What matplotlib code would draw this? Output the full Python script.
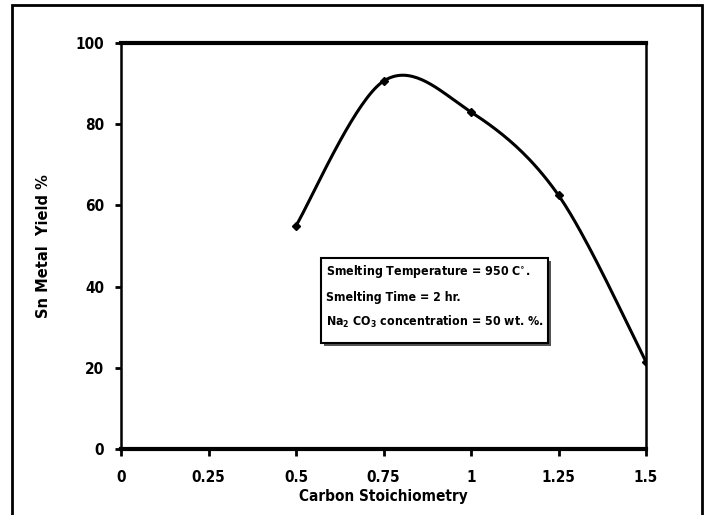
import numpy as np
import matplotlib
matplotlib.use("Agg")
import matplotlib.pyplot as plt
from matplotlib.patches import Rectangle

# data
carbon = [0.5, 0.75, 1.0, 1.25, 1.5]
yield_pct = [55.0, 90.6, 83.0, 62.5, 21.5]
x_ticks = [0, 0.25, 0.5, 0.75, 1, 1.25, 1.5]
x_labels = ["0", "0.25", "0.5", "0.75", "1", "1.25", "1.5"]
y_ticks = [0, 20, 40, 60, 80, 100]
note_lines = [
    "Smelting Temperature = 950 C$^{\\circ}$.",
    "Smelting Time = 2 hr.",
    "Na$_2$ CO$_3$ concentration = 50 wt. %.",
]

NARROW = ["DejaVu Sans"]
plt.rcParams["mathtext.default"] = "regular"


def excel_smooth(xs, ys, n=40):
    """Excel-style smoothed line: cubic bezier with 1/6 tangent handles."""
    xs, ys = np.asarray(xs, float), np.asarray(ys, float)
    px, py = [], []
    for i in range(len(xs) - 1):
        i0, i3 = max(i - 1, 0), min(i + 2, len(xs) - 1)
        p0 = np.array([xs[i], ys[i]])
        p3 = np.array([xs[i + 1], ys[i + 1]])
        p1 = p0 + (p3 - np.array([xs[i0], ys[i0]])) / 6.0
        p2 = p3 - (np.array([xs[i3], ys[i3]]) - p0) / 6.0
        t = np.linspace(0, 1, n)[:, None]
        pts = ((1 - t) ** 3) * p0 + 3 * ((1 - t) ** 2) * t * p1 + 3 * (1 - t) * t ** 2 * p2 + t ** 3 * p3
        px.extend(pts[:, 0])
        py.extend(pts[:, 1])
    return np.array(px), np.array(py)


fig = plt.figure(figsize=(7.06, 5.15), dpi=100)
ax = fig.add_axes([121 / 706, 66 / 515, 525 / 706, 406 / 515])

sx, sy = excel_smooth(carbon, yield_pct)
ax.plot(sx, sy, color="black", lw=2.2, solid_capstyle="round")
ax.plot(carbon, yield_pct, ls="none", marker="D", ms=4, color="black")

ax.set_xlim(0, 1.5)
ax.set_ylim(0, 100)
ax.set_xticks(x_ticks)
ax.set_xticklabels(x_labels)
ax.set_yticks(y_ticks)

for side in ["top", "bottom"]:
    ax.spines[side].set_linewidth(3)
for side in ["left", "right"]:
    ax.spines[side].set_linewidth(1.8)

ax.tick_params(axis="x", direction="out", length=5, width=2, pad=10)
ax.tick_params(axis="y", direction="out", length=4, width=2, pad=8)
for lab in ax.get_xticklabels() + ax.get_yticklabels():
    lab.set_family(NARROW)
    lab.set_stretch("condensed")
    lab.set_fontweight("bold")
    lab.set_fontsize(11)

ax.set_xlabel("Carbon Stoichiometry", family=NARROW, stretch="condensed", fontweight="bold",
              fontsize=11, labelpad=3)
ax.set_ylabel("Sn Metal  Yield %", family="DejaVu Sans", fontweight="bold", fontsize=10.5, labelpad=18)

# annotation box with a slight shadow
bx, by, bw, bh = 321 / 706, (515 - 343) / 515, 227 / 706, 85 / 515
fig.patches.append(Rectangle((bx + 0.004, by - 0.005), bw, bh, transform=fig.transFigure,
                             facecolor="#555555", edgecolor="none", zorder=3))
fig.patches.append(Rectangle((bx, by), bw, bh, transform=fig.transFigure,
                             facecolor="white", edgecolor="black", lw=1.5, zorder=4))
for i, line in enumerate(note_lines):
    fig.text(bx + 0.007, (515 - 272 - i * 25) / 515, line, family=NARROW, stretch="condensed",
             fontweight="bold", fontsize=8.9, va="center", ha="left", zorder=5)

# outer frame around the whole chart
fig.patches.append(Rectangle((12 / 706, -0.05), 690 / 706, 1.04, transform=fig.transFigure,
                             facecolor="none", edgecolor="black", lw=2))

fig.savefig("out.png", dpi=100)
